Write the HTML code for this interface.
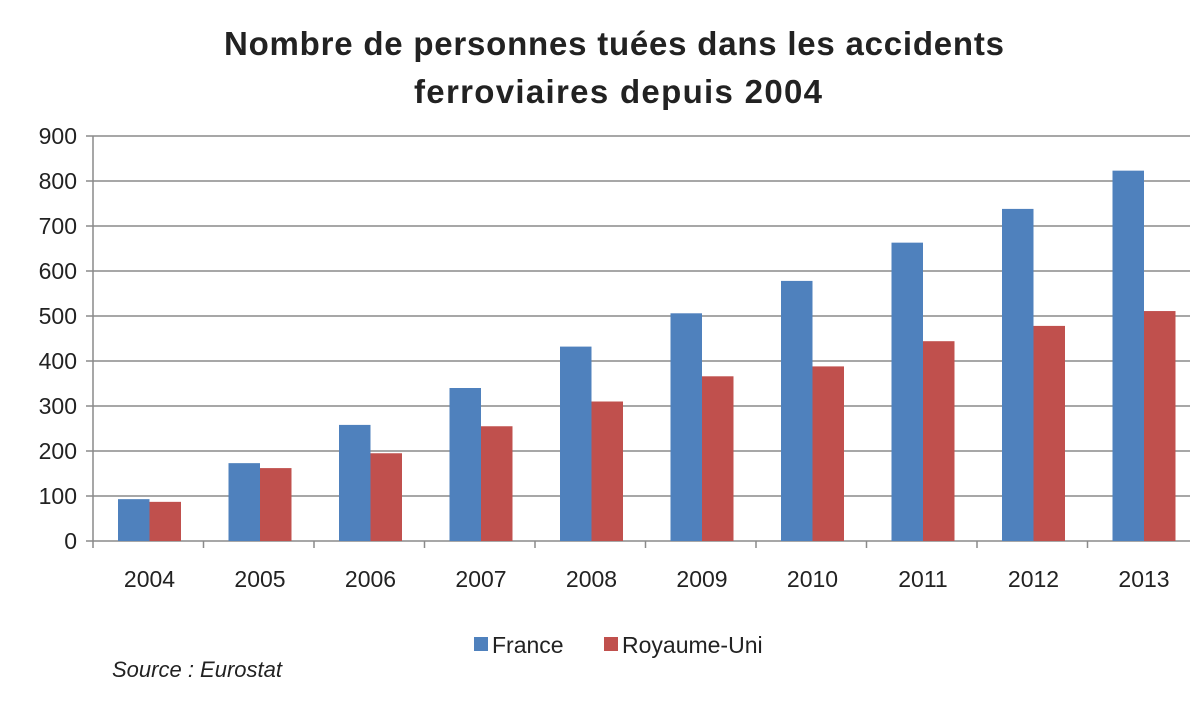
<!DOCTYPE html><html><head><meta charset="utf-8"><style>body{margin:0;background:#fff}svg text{font-family:"Liberation Sans",sans-serif;fill:#222}</style></head><body>
<svg width="1201" height="700" xmlns="http://www.w3.org/2000/svg">
<text x="614" y="55" text-anchor="middle" font-size="33" font-weight="bold" textLength="780">Nombre de personnes tuées dans les accidents</text>
<text x="618" y="103" text-anchor="middle" font-size="33" font-weight="bold" textLength="408">ferroviaires depuis 2004</text>
<g stroke="#8a8a8a" stroke-width="1.5">
<line x1="86" y1="136" x2="1190" y2="136"/><line x1="86" y1="181" x2="1190" y2="181"/><line x1="86" y1="226" x2="1190" y2="226"/><line x1="86" y1="271" x2="1190" y2="271"/><line x1="86" y1="316" x2="1190" y2="316"/><line x1="86" y1="361" x2="1190" y2="361"/><line x1="86" y1="406" x2="1190" y2="406"/><line x1="86" y1="451" x2="1190" y2="451"/><line x1="86" y1="496" x2="1190" y2="496"/><line x1="86" y1="541" x2="1190" y2="541"/>
<line x1="93" y1="136" x2="93" y2="548"/>
<line x1="203.5" y1="541" x2="203.5" y2="548"/><line x1="314" y1="541" x2="314" y2="548"/><line x1="424.5" y1="541" x2="424.5" y2="548"/><line x1="535" y1="541" x2="535" y2="548"/><line x1="645.5" y1="541" x2="645.5" y2="548"/><line x1="756" y1="541" x2="756" y2="548"/><line x1="866.5" y1="541" x2="866.5" y2="548"/><line x1="977" y1="541" x2="977" y2="548"/><line x1="1087.5" y1="541" x2="1087.5" y2="548"/>
</g>
<g font-size="23" text-anchor="end">
<text x="77" y="144">900</text><text x="77" y="189">800</text><text x="77" y="234">700</text><text x="77" y="279">600</text><text x="77" y="324">500</text><text x="77" y="369">400</text><text x="77" y="414">300</text><text x="77" y="459">200</text><text x="77" y="504">100</text><text x="77" y="549">0</text>
</g>
<g id="bars"></g>
<g font-size="23" text-anchor="middle" id="xl"></g>
<rect x="474" y="637" width="14" height="14" fill="#4F81BD"/><text x="492" y="653" font-size="23">France</text>
<rect x="604" y="637" width="14" height="14" fill="#C0504D"/><text x="622" y="653" font-size="23">Royaume-Uni</text>
<text x="112" y="677" font-size="22" font-style="italic">Source : Eurostat</text>
<script>
var f=[93,173,258,340,432,506,578,663,738,823],u=[87,162,195,255,310,366,388,444,478,511];
var b=document.getElementById('bars'),x=document.getElementById('xl'),ns='http://www.w3.org/2000/svg';
for(var i=0;i<10;i++){var s=93+i*110.5+25;
[[f[i],'#4F81BD',s],[u[i],'#C0504D',s+31.5]].forEach(function(d){var r=document.createElementNS(ns,'rect');var h=d[0]*0.45;r.setAttribute('x',d[2]);r.setAttribute('y',541-h);r.setAttribute('width',31.5);r.setAttribute('height',h);r.setAttribute('fill',d[1]);b.appendChild(r);});
var t=document.createElementNS(ns,'text');t.setAttribute('x',s+31.5);t.setAttribute('y',587);t.textContent=2004+i;x.appendChild(t);}
</script>
</svg></body></html>
